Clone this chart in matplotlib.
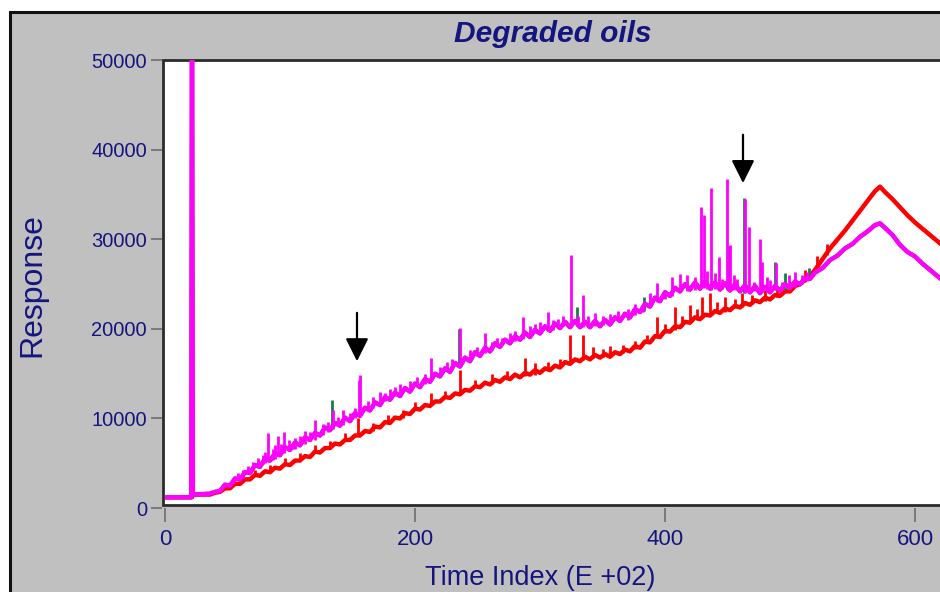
import matplotlib
matplotlib.use("Agg")
import matplotlib.pyplot as plt
from matplotlib.patches import Rectangle

# --- Data --------------------------------------------------------------------
# Time index in units of E+02, response in counts
TRACE_X = [0, 21, 21.6, 22.3, 36, 40, 44, 48, 52, 56, 60, 64, 68, 72, 76, 80,
           84, 88, 92, 96, 100, 104, 108, 112, 116, 120, 124, 128, 132, 136,
           140, 144, 148, 152, 156, 160, 164, 168, 172, 176, 180, 184, 188,
           192, 196, 200, 204, 208, 212, 216, 220, 224, 228, 232, 236, 240,
           244, 248, 252, 256, 260, 264, 268, 272, 276, 280, 284, 288, 292,
           296, 300, 304, 308, 312, 316, 320, 324, 328, 332, 336, 340, 344,
           348, 352, 356, 360, 364, 368, 372, 376, 380, 384, 388, 392, 396,
           400, 404, 408, 412, 416, 420, 424, 428, 432, 436, 440, 444, 448,
           452, 456, 460, 464, 468, 472, 476, 480, 484, 488, 492, 496, 500,
           504, 508, 512, 516, 520, 526, 532, 538, 544, 550, 556, 562, 568,
           572, 576, 582, 588, 594, 600, 606, 612, 618, 624]

magenta_y = [1200, 1200, 60000, 1500, 1600, 1800, 1900, 2600, 2500, 3300,
             3200, 4000, 3900, 4800, 4600, 5500, 5300, 6100, 5900, 6800, 6500,
             7300, 7000, 7900, 7600, 8400, 8100, 9000, 8700, 9500, 9200, 10100,
             9700, 10600, 10300, 11200, 10900, 11800, 11500, 12400, 12100,
             12900, 12500, 13400, 13000, 13900, 13500, 14400, 14100, 15000,
             14700, 15600, 15200, 16200, 15800, 16800, 16400, 17400, 17000,
             17900, 17500, 18400, 18000, 18800, 18400, 19200, 18800, 19600,
             19100, 19900, 19500, 20300, 19800, 20600, 20100, 20800, 20200,
             20900, 20200, 20800, 20200, 20900, 20300, 21000, 20500, 21300,
             20900, 21700, 21300, 22200, 21900, 22800, 22500, 23500, 23100,
             24100, 23700, 24600, 24200, 25000, 24400, 25200, 24500, 25300,
             24500, 25200, 24400, 25100, 24300, 25000, 24200, 24900, 24100,
             24800, 24000, 24700, 24100, 24800, 24300, 25000, 24600, 25300,
             25000, 25700, 25600, 26300, 26800, 27700, 28200, 29000, 29500,
             30300, 30900, 31600, 31800, 31300, 30500, 29400, 28600, 28100,
             27300, 26600, 25900, 25200]

red_y = [1200, 1200, 1200, 1500, 1500, 1700, 1800, 2200, 2200, 2700, 2700,
         3200, 3200, 3700, 3600, 4100, 4000, 4500, 4400, 4900, 4800, 5300,
         5300, 5800, 5700, 6300, 6200, 6700, 6700, 7200, 7100, 7600, 7600,
         8100, 8100, 8600, 8500, 9100, 9000, 9600, 9500, 10100, 10000, 10600,
         10500, 11100, 11000, 11500, 11400, 11900, 11900, 12400, 12300, 12800,
         12700, 13200, 13100, 13600, 13500, 14000, 13800, 14300, 14100, 14600,
         14400, 14900, 14600, 15100, 14900, 15400, 15100, 15600, 15400, 15900,
         15700, 16300, 16100, 16600, 16400, 16900, 16600, 17100, 16800, 17200,
         16900, 17400, 17200, 17700, 17500, 18100, 17900, 18600, 18500, 19200,
         19100, 19800, 19700, 20300, 20200, 20800, 20700, 21300, 21100, 21600,
         21500, 22000, 21800, 22300, 22100, 22600, 22400, 22900, 22700, 23200,
         23000, 23500, 23300, 23800, 23700, 24200, 24200, 24800, 25000, 25500,
         25900, 26600, 27800, 29000, 30000, 31000, 32100, 33200, 34300, 35400,
         35900, 35300, 34500, 33600, 32700, 31900, 31200, 30500, 29800, 29100]

# spikes: (time index, base, top)
MAGENTA_SPIKES = [(54, 2700, 3300), (58, 3100, 3900), (62, 3400, 4300),
                  (66, 3900, 4700), (70, 4300, 5100), (74, 4500, 5600),
                  (78, 4900, 5900), (80, 5000, 6300), (82, 5100, 8400),
                  (86, 5400, 6600), (88, 5500, 7000), (90, 5800, 8000),
                  (93, 6000, 7200), (95, 6100, 8500), (99, 6400, 7600),
                  (102, 6600, 7400), (104, 6600, 7800), (108, 7000, 8000),
                  (112, 7200, 8600), (116, 7600, 8500), (120, 7600, 9800),
                  (126, 8200, 9400), (130, 8500, 9600), (134, 8800, 11000),
                  (138, 9200, 10200), (142, 9300, 10900), (148, 9800, 10600),
                  (152, 10100, 11200), (155, 10300, 14300), (156, 10400, 14900),
                  (162, 10900, 11900), (166, 11200, 12400), (172, 11700, 13000),
                  (176, 12000, 12900), (180, 12200, 13300), (184, 12500, 13500),
                  (188, 12600, 13800), (196, 13100, 14200), (202, 13600, 14600),
                  (208, 13900, 15000), (213, 14300, 16800), (220, 14800, 15800),
                  (226, 15300, 16300), (230, 15500, 16700), (236, 16000, 20100),
                  (244, 16600, 17600), (250, 17000, 18000), (256, 17300, 19500),
                  (262, 17700, 18500), (266, 18000, 19000), (270, 18200, 19000),
                  (276, 18500, 19600), (280, 18700, 19800), (286, 18900, 21300),
                  (292, 19300, 20300), (296, 19500, 20600), (300, 19700, 20800),
                  (306, 19800, 21900), (310, 19900, 21000), (314, 20100, 21100),
                  (318, 20300, 21400), (325, 20400, 28300), (330, 20300, 21500),
                  (334, 20200, 23800), (338, 20300, 21400), (344, 20300, 21800),
                  (350, 20400, 21500), (356, 20600, 21700), (362, 20900, 22000),
                  (370, 21000, 22200), (376, 21600, 22800), (382, 21900, 22500),
                  (388, 22600, 24000), (394, 23000, 25100), (400, 23300, 24300),
                  (406, 23700, 25800), (412, 24300, 26100), (418, 24200, 26000),
                  (424, 24400, 25800), (429, 24600, 33600), (431, 24600, 32700),
                  (434, 24500, 26500), (437, 24400, 35800), (440, 24500, 26200),
                  (443, 24700, 28000), (446, 24500, 25600), (450, 24300, 36800),
                  (452, 24500, 29400), (455, 24300, 26000), (458, 24300, 25600),
                  (464, 24000, 34500), (467, 24300, 31400), (471, 24200, 25200),
                  (476, 24000, 30000), (478, 24100, 27500), (482, 24100, 25800),
                  (484, 24200, 25500), (489, 24300, 27400), (494, 24300, 25300),
                  (499, 24600, 26000), (504, 24700, 26400), (510, 25000, 26000),
                  (514, 25400, 26400)]

GREEN_SPIKES = [(133.4, 8800, 12100), (235.4, 16000, 20000), (329.4, 20300, 22500),
                (383.4, 22000, 23600), (451.4, 24400, 29300), (463.4, 24000, 34600),
                (488.4, 24300, 27500), (496.4, 24400, 26300), (515.4, 25600, 26800)]

RED_SPIKES = [(60, 2700, 3300), (72, 3600, 4300), (84, 4000, 4800),
              (96, 4800, 5600), (108, 5300, 6100), (120, 6200, 7000),
              (132, 6700, 7500), (144, 7600, 8400), (154, 8000, 10000),
              (166, 8600, 9500), (178, 9500, 10400), (190, 10100, 11000),
              (200, 11000, 11800), (213, 11500, 12900), (224, 12300, 13100),
              (236, 12800, 15400), (248, 13500, 14300), (262, 13900, 15000),
              (274, 14400, 15300), (288, 14700, 16800), (296, 14900, 16200),
              (306, 15400, 16300), (316, 15800, 16700), (324, 16200, 19300),
              (334, 16500, 19300), (342, 16800, 18000), (350, 16900, 17800),
              (356, 17000, 18100), (366, 17300, 18200), (376, 17800, 18700),
              (386, 18400, 19300), (394, 19100, 21300), (400, 19600, 20600),
              (408, 19900, 22500), (414, 20300, 21400), (420, 20900, 22700),
              (426, 21000, 22200), (430, 21300, 23600), (436, 21700, 24000),
              (442, 21900, 23000), (448, 21900, 23600), (456, 22300, 23300),
              (462, 22500, 24000), (470, 22800, 23800), (480, 23100, 24300),
              (490, 23600, 24600), (500, 24200, 25200), (512, 25300, 26600),
              (522, 26800, 28100), (530, 28300, 29500)]

# arrows marking peaks: (time index, tail, tip)
ARROWS = [(153.6, 21800, 16400), (462.4, 41700, 36300)]

Y_TICKS = [0, 10000, 20000, 30000, 40000, 50000]
X_TICKS = [0, 200, 400, 600]

# --- Style -------------------------------------------------------------------
NAVY = "#15157f"
RED = "#ff0000"
MAGENTA = "#ff00ff"
GREEN = "#1f7a4a"
W, H = 940, 592

plt.rcParams.update({
    "font.family": ["Liberation Sans", "DejaVu Sans"],
})

fig = plt.figure(figsize=(W / 100, H / 100), dpi=100, facecolor="white")

# grey panel with dark border, running off the right/bottom edges
panel = Rectangle((10 / W, -0.1), 1.1, (H - 12) / H + 0.1, transform=fig.transFigure,
                  facecolor="#c0c0c0", edgecolor="#111111", lw=2.2, zorder=-10)
fig.patches.append(panel)

# axes spans x=0 (px 165) and y=0 (px 508); frame box is drawn separately
ax_l, ax_r = 165 / W, 945 / W
ax_b, ax_t = (H - 508) / H, (H - 60) / H
ax = fig.add_axes([ax_l, ax_b, ax_r - ax_l, ax_t - ax_b])
ax.set_zorder(1)
ax.set_facecolor("none")
XMIN, XMAX = 0, 624
YMIN, YMAX = 0, 50050
ax.set_xlim(XMIN, XMAX)
ax.set_ylim(YMIN, YMAX)

frame_bottom = 335
frame = Rectangle((-1.6, frame_bottom), XMAX + 10, YMAX - frame_bottom,
                  facecolor="white", edgecolor="#2b2b2b", lw=2, zorder=0.5,
                  clip_on=False)
ax.add_patch(frame)

for s in ax.spines.values():
    s.set_visible(False)
ax.spines["left"].set_position(("outward", 2))

# traces
ax.plot(TRACE_X, red_y, color=RED, lw=3.2, zorder=2)
sx, sb, st = zip(*RED_SPIKES)
ax.vlines(sx, sb, st, color=RED, lw=2, zorder=2)

ax.plot(TRACE_X, magenta_y, color=GREEN, lw=3.0, zorder=3)
gx, gb, gt = zip(*GREEN_SPIKES)
ax.vlines(gx, gb, gt, color=GREEN, lw=2, zorder=3)

ax.plot(TRACE_X, magenta_y, color=MAGENTA, lw=3.2, zorder=4)
mx, mb, mt = zip(*MAGENTA_SPIKES)
ax.vlines(mx, mb, mt, color=MAGENTA, lw=2, zorder=4)

for x, tail, tip in ARROWS:
    ax.annotate("", xy=(x, tip), xytext=(x, tail),
                arrowprops=dict(arrowstyle="-|>,head_length=1.4,head_width=0.7",
                                color="black", lw=1.6, mutation_scale=10,
                                shrinkA=0, shrinkB=0), zorder=6)

# ticks
ax.set_xticks(X_TICKS)
ax.set_yticks(Y_TICKS)
ax.tick_params(axis="y", direction="out", length=8, width=1.4, color="#7a7a7a",
               labelcolor=NAVY, labelsize=14.5, pad=3)
ax.tick_params(axis="x", direction="out", length=10, width=1.4, color="#7a7a7a",
               labelcolor=NAVY, labelsize=16, pad=5)

# titles
fig.text(553 / W, 1 - 34 / H, "Degraded oils", ha="center", va="center",
         fontsize=21.5, fontweight="bold", fontstyle="italic", color=NAVY)
fig.text(32 / W, 1 - 285 / H, "Response", ha="center", va="center",
         rotation=90, fontsize=23, color=NAVY)
fig.text(540 / W, 1 - 578 / H, "Time Index (E +02)", ha="center", va="center",
         fontsize=19.5, color=NAVY)

fig.savefig("out.png", dpi=100)
